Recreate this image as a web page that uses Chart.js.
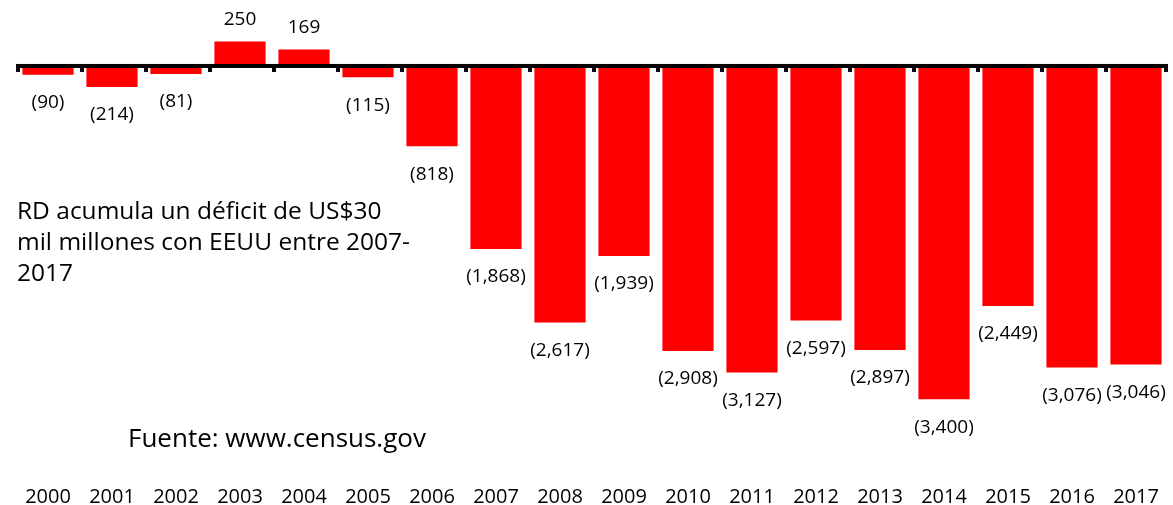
<!DOCTYPE html>
<html>
<head>
<meta charset="utf-8">
<script src="https://cdn.jsdelivr.net/npm/chart.js@4/dist/chart.umd.min.js"></script>
<style>
  html, body { margin: 0; padding: 0; background: #fff; }
  #wrap { width: 1173px; height: 505px; position: relative; }
</style>
</head>
<body>
<div id="wrap"><canvas id="balanza"></canvas></div>
<script>
const anios = ['2000','2001','2002','2003','2004','2005','2006','2007','2008','2009',
               '2010','2011','2012','2013','2014','2015','2016','2017'];
const balance = [-90, -214, -81, 250, 169, -115, -818, -1868, -2617, -1939,
                 -2908, -3127, -2597, -2897, -3400, -2449, -3076, -3046];
const notaLineas = ['RD acumula un déficit de US$30', 'mil millones con EEUU entre 2007-', '2017'];
const fuente = 'Fuente: www.census.gov';

const fuenteTexto = '"Open Sans", sans-serif';

function formatoValor(v) {
    const s = Math.abs(v).toLocaleString('en-US');
    return v < 0 ? '(' + s + ')' : s;
}

// Linea del cero con sus marcas, etiquetas de valor y textos sueltos
const extrasPlugin = {
    id: 'extras',
    afterDatasetsDraw(chart) {
        const ctx = chart.ctx;
        const ys = chart.scales.y;
        const y0 = ys.getPixelForValue(0);
        const area = chart.chartArea;

        ctx.save();
        ctx.fillStyle = '#000';
        ctx.fillRect(area.left, y0 - 2, area.right - area.left, 4);
        const paso = (area.right - area.left) / anios.length;
        for (let i = 0; i <= anios.length; i++) {
            let x = area.left + i * paso;
            if (i === anios.length) x -= 4;
            ctx.fillRect(x, y0, 4, 6);
        }

        ctx.font = '19px ' + fuenteTexto;
        ctx.textAlign = 'center';
        ctx.textBaseline = 'middle';
        chart.getDatasetMeta(0).data.forEach((bar, i) => {
            const v = balance[i];
            const y = v < 0 ? bar.y + 28 : bar.y - 22;
            ctx.fillText(formatoValor(v), bar.x, y);
        });

        ctx.font = '24.5px ' + fuenteTexto;
        ctx.textAlign = 'left';
        notaLineas.forEach((linea, i) => {
            ctx.fillText(linea, 17, 212 + i * 31);
        });
        ctx.font = '26px ' + fuenteTexto;
        ctx.fillText(fuente, 128, 440);
        ctx.restore();
    }
};

new Chart(document.getElementById('balanza'), {
    type: 'bar',
    data: {
        labels: anios,
        datasets: [{
            data: balance,
            backgroundColor: '#ff0000',
            borderWidth: 0,
            barPercentage: 0.8,
            categoryPercentage: 1.0
        }]
    },
    options: {
        responsive: true,
        maintainAspectRatio: false,
        animation: false,
        layout: { padding: { left: 16, right: 5, top: 0, bottom: 0 } },
        plugins: {
            legend: { display: false },
            tooltip: { enabled: false }
        },
        scales: {
            y: {
                display: false,
                min: -4071,
                max: 673
            },
            x: {
                // las marcas no se pintan, pero su largo separa las etiquetas del area
                grid: { display: false, drawTicks: true, tickLength: 20 },
                border: { display: false },
                ticks: {
                    color: '#000',
                    font: { size: 20, family: fuenteTexto },
                    padding: 0,
                    maxRotation: 0,
                    autoSkip: false
                },
                afterFit(scale) { scale.height = 40; }
            }
        }
    },
    plugins: [extrasPlugin]
});
</script>
</body>
</html>
